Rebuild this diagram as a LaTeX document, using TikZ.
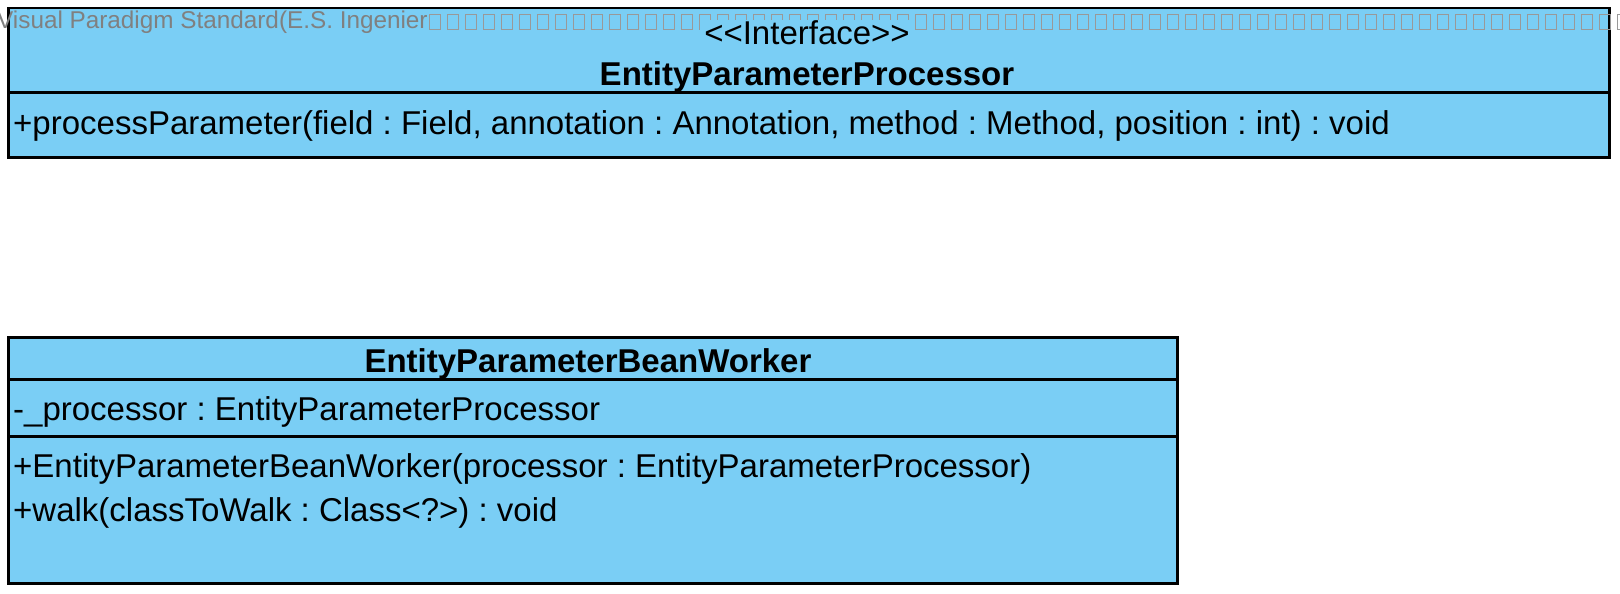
\documentclass[tikz,border=0pt]{standalone}
\usepackage{fontspec}
\setmainfont{Liberation Sans}
\usetikzlibrary{positioning}

\definecolor{classfill}{RGB}{122,206,245}
\definecolor{wmgray}{RGB}{128,128,128}

\begin{document}
\frenchspacing
\begin{tikzpicture}[x=1pt, y=-1pt,
    every node/.style={font=\fontsize{33}{39}\selectfont, inner sep=0pt},
    compart/.style={draw=black, line width=2.5pt, fill=classfill, anchor=north west},
    member/.style={anchor=west, text height=24pt, text depth=7pt},
    classname/.style={font=\fontsize{33}{39}\selectfont\bfseries, text height=24pt, text depth=7pt},
    stereo/.style={fill=classfill, inner xsep=4pt, text height=24pt, text depth=7pt},
    watermark/.style={font=\fontsize{24.3}{28}\selectfont, text=wmgray, anchor=west},
    tofu/.style={draw=wmgray!80, line width=1pt}
]
\useasboundingbox (0,0) rectangle (1620,594);

% Interface EntityParameterProcessor
\node[compart, minimum width=1601pt, minimum height=84pt] (procHead) at (7,7) {};
\node[compart, minimum width=1601pt, minimum height=65pt] (procOps) at (7,91) {};

% watermark, the missing glyphs drawn as empty boxes
\node[watermark] (wm) at (-3,22) {Visual Paradigm Standard(E.S. Ingenier};
\foreach \k in {0,...,66} {
    \draw[tofu] (429+18*\k,15) rectangle ++(11,15);
}

\node[stereo] (stereo) at (807,36) {\textless{}\textless{}Interface\textgreater{}\textgreater{}};
\node[classname] (procName) at (807,77) {EntityParameterProcessor};
\node[member] (procMethod) at (13,126) {+processParameter(field : Field, annotation : Annotation, method : Method, position : int) : void};

% Class EntityParameterBeanWorker
\node[compart, minimum width=1169pt, minimum height=42pt] (workHead) at (7,336) {};
\node[compart, minimum width=1169pt, minimum height=57pt] (workAttrs) at (7,378) {};
\node[compart, minimum width=1169pt, minimum height=147pt] (workOps) at (7,435) {};

\node[classname] (workName) at (588,364) {EntityParameterBeanWorker};
\node[member] (workField) at (13,412) {-\_processor : EntityParameterProcessor};
\node[member] (workCtor) at (13,469) {+EntityParameterBeanWorker(processor : EntityParameterProcessor)};
\node[member] (workWalk) at (13,513) {+walk(classToWalk : Class\textless{}?\textgreater{}) : void};

\end{tikzpicture}
\end{document}
